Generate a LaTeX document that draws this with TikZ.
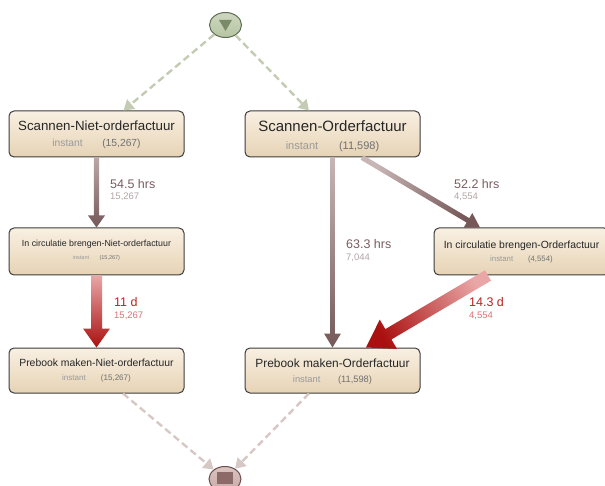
\documentclass[tikz,border=0pt]{standalone}
\usepackage{fontspec}
\setmainfont{Liberation Sans}
\usetikzlibrary{arrows.meta,calc,shapes.geometric}

\definecolor{boxtop}{HTML}{F9F0E2}
\definecolor{boxbot}{HTML}{E6D3B5}
\definecolor{boxline}{HTML}{3C3C3C}
\definecolor{titlec}{HTML}{262626}
\definecolor{instc}{HTML}{9A9A9A}
\definecolor{numc}{HTML}{707070}
\definecolor{gdashc}{HTML}{C3CCB3}
\definecolor{pdashc}{HTML}{D6C8C4}
\definecolor{startfill}{HTML}{B7C5A3}
\definecolor{startline}{HTML}{5E6E54}
\definecolor{starttri}{HTML}{7B8B6A}
\definecolor{endfill}{HTML}{C9AAA7}
\definecolor{endline}{HTML}{6A4C4A}
\definecolor{endsq}{HTML}{8C6A68}
\definecolor{mlabel}{HTML}{7A5C5E}
\definecolor{mcount}{HTML}{B2A4A6}
\definecolor{rlabel}{HTML}{B82222}
\definecolor{rcount}{HTML}{D87474}
\definecolor{mtail}{HTML}{C8B5B5}
\definecolor{mhead}{HTML}{765858}
\definecolor{rtail}{HTML}{E9A6A6}
\definecolor{rhead}{HTML}{AA1010}

\tikzset{
  box/.style={draw=boxline, line width=1pt, rounded corners=5pt,
    top color=boxtop, bottom color=boxbot,
    minimum width=175pt, minimum height=46pt, inner sep=0pt},
  ttl/.style={anchor=base, text=titlec, inner sep=0pt},
  sub/.style={anchor=base, inner sep=0pt},
  gdash/.style={draw=gdashc, line width=2.4pt, dash pattern=on 7pt off 4pt,
    -{Triangle[length=10pt,width=12pt,fill=gdashc]}},
  pdash/.style={draw=pdashc, line width=2.4pt, dash pattern=on 7pt off 4pt,
    -{Triangle[length=10pt,width=12pt,fill=pdashc]}},
  lbl/.style={anchor=west, inner sep=0pt, font=\fontsize{12.5}{14}\selectfont},
  cnt/.style={anchor=west, inner sep=0pt, font=\fontsize{9.5}{11}\selectfont},
}

% tail, tip, shaft half width, head half width, head length, shading options
\newcommand{\gradarrow}[6]{%
  \coordinate (gah) at ($(#2)!#5!(#1)$);
  \shade[#6] ($(#1)!#3!90:(#2)$) -- ($(gah)!#3!90:(#2)$) -- ($(gah)!#4!90:(#2)$)
    -- (#2) -- ($(gah)!#4!-90:(#2)$) -- ($(gah)!#3!-90:(#2)$) -- ($(#1)!#3!-90:(#2)$) -- cycle;
}
\newcommand{\subline}[3]{\fontsize{#1}{#1}\selectfont\textcolor{instc}{instant}\hspace{1.9em}\textcolor{numc}{#3}}

\begin{document}
\begin{tikzpicture}[x=1pt, y=-1pt]
\useasboundingbox (0,0) rectangle (605,486);

% start / end
\node[ellipse, draw=startline, line width=1pt, top color=startfill!70!white, bottom color=startfill,
  minimum width=32pt, minimum height=25pt, inner sep=0pt] (start) at (225.5,25) {};
\fill[starttri] ($(start.center)+(-6.5,-5)$) -- ($(start.center)+(6.5,-5)$) -- ($(start.center)+(0,6)$) -- cycle;
\node[ellipse, draw=endline, line width=1pt, top color=endfill!70!white, bottom color=endfill,
  minimum width=32pt, minimum height=25pt, inner sep=0pt] (end) at (225,479) {};
\fill[endsq] ($(end.center)+(-8,-7)$) rectangle ($(end.center)+(8,5)$);

% boxes
\node[box] (b1) at (96.5,134) {};
\node[box] (b2) at (332.5,134) {};
\node[box, minimum height=47pt] (b3) at (96.5,251.5) {};
\node[box, minimum height=47pt] (b4) at (521.5,251.5) {};
\node[box, minimum height=45pt] (b5) at (96.5,370.5) {};
\node[box, minimum height=45pt] (b6) at (332.5,370.5) {};

\node[ttl, font=\fontsize{13.3}{15}\selectfont] (b1t) at ($(b1.center)+(0,-3.5)$) {Scannen-Niet-orderfactuur};
\node[sub] (b1s) at ($(b1.center)+(0,13)$) {\subline{10.3}{}{(15,267)}};
\node[ttl, font=\fontsize{15}{17}\selectfont] (b2t) at ($(b2.center)+(0,-2)$) {Scannen-Orderfactuur};
\node[sub] (b2s) at ($(b2.center)+(0,16)$) {\subline{11}{}{(11,598)}};
\node[ttl, font=\fontsize{8.85}{10}\selectfont] (b3t) at ($(b3.center)+(0,-5.3)$) {In circulatie brengen-Niet-orderfactuur};
\node[sub] (b3s) at ($(b3.center)+(0,8.3)$) {\subline{5.5}{}{(15,267)}};
\node[ttl, font=\fontsize{10.4}{12}\selectfont] (b4t) at ($(b4.center)+(0,-2.8)$) {In circulatie brengen-Orderfactuur};
\node[sub] (b4s) at ($(b4.center)+(0,10.3)$) {\subline{7.8}{}{(4,554)}};
\node[ttl, font=\fontsize{10.4}{12}\selectfont] (b5t) at ($(b5.center)+(0,-3.8)$) {Prebook maken-Niet-orderfactuur};
\node[sub] (b5s) at ($(b5.center)+(0,9.5)$) {\subline{8}{}{(15,267)}};
\node[ttl, font=\fontsize{11.9}{13}\selectfont] (b6t) at ($(b6.center)+(0,-3.2)$) {Prebook maken-Orderfactuur};
\node[sub] (b6s) at ($(b6.center)+(0,11.9)$) {\subline{9.3}{}{(11,598)}};

% dashed connectors
\draw[gdash] (start) -- ($(b1.north)+(27,0)$);
\draw[gdash] (start) -- ($(b2.north)+(-23.5,0)$);
\draw[pdash] ($(b5.south)+(26.5,0)$) -- (end);
\draw[pdash] ($(b6.south)+(-23.5,0)$) -- (end);

% flow arrows
\gradarrow{b1.south}{b3.north}{2.6pt}{8.5pt}{12pt}{top color=mtail!85!mhead, bottom color=mhead}
\gradarrow{b3.south}{b5.north}{5.5pt}{13.5pt}{19pt}{top color=rtail, bottom color=rhead}
\gradarrow{b2.south}{b6.north}{2.4pt}{8.5pt}{14pt}{top color=mtail, bottom color=mhead}
\coordinate (a24s) at ($(b2.south)+(29.5,0)$);
\coordinate (a24e) at ($(b4.north)+(-41.5,0)$);
\gradarrow{a24s}{a24e}{2.6pt}{8.5pt}{14pt}{bottom color=mtail, top color=mhead, shading angle=-121}
\coordinate (a46s) at ($(b4.south)+(-33.5,0)$);
\coordinate (a46e) at ($(b6.north)+(33.5,0)$);
\gradarrow{a46s}{a46e}{6pt}{17pt}{26pt}{bottom color=rtail, top color=rhead, shading angle=120.9}

% labels
\node[lbl, text=mlabel] (l1) at (110,184) {54.5 hrs};
\node[cnt, text=mcount] (c1) at (110,197) {15,267};
\node[lbl, text=mlabel] (l2) at (346,244) {63.3 hrs};
\node[cnt, text=mcount] (c2) at (346,258) {7,044};
\node[lbl, text=mlabel] (l3) at (454,184) {52.2 hrs};
\node[cnt, text=mcount] (c3) at (454,197) {4,554};
\node[lbl, text=rlabel] (l4) at (114,302) {11 d};
\node[cnt, text=rcount] (c4) at (114,316) {15,267};
\node[lbl, text=rlabel] (l5) at (469,302) {14.3 d};
\node[cnt, text=rcount] (c5) at (469,316) {4,554};
\end{tikzpicture}
\end{document}
